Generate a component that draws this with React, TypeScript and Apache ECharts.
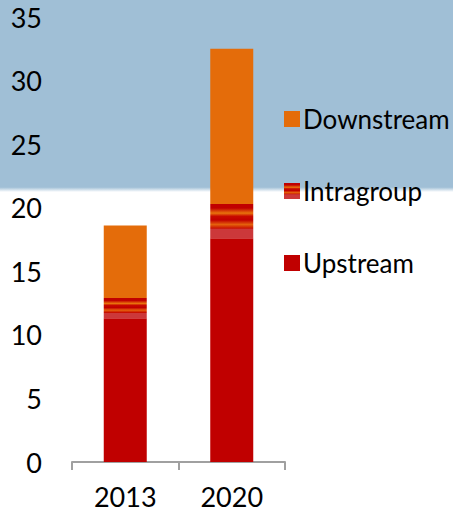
import React, { useEffect, useRef } from "react";
import * as echarts from "echarts";

const categories = ["2013", "2020"];
const upstream = [11.3, 17.6];
const intragroup = [1.6, 2.7];
const downstream = [5.7, 12.2];
const yTicks = [0, 5, 10, 15, 20, 25, 30, 35];

const FONT = "Lato";

const intraFill = new echarts.graphic.LinearGradient(0, 0, 0, 1, [
  { offset: 0, color: "#c00000" },
  { offset: 0.12, color: "#c00000" },
  { offset: 0.27, color: "#e8730c" },
  { offset: 0.36, color: "#c80a00" },
  { offset: 0.47, color: "#c00000" },
  { offset: 0.6, color: "#e4600c" },
  { offset: 0.715, color: "#c81000" },
  { offset: 0.72, color: "#cc383a" },
  { offset: 1, color: "#cc383a" },
]);

export default function App() {
  const ref = useRef<HTMLDivElement>(null);
  useEffect(() => {
    const chart = echarts.init(ref.current!, null, { renderer: "svg" });
    chart.setOption({
      animation: false,
      backgroundColor: "#ffffff",
      graphic: [
        {
          type: "rect",
          z: -10,
          silent: true,
          shape: { x: 0, y: 0, width: 453, height: 192 },
          style: {
            fill: new echarts.graphic.LinearGradient(0, 0, 0, 1, [
              { offset: 0, color: "#a0bfd6" },
              { offset: 0.975, color: "#a0bfd6" },
              { offset: 1, color: "#ffffff" },
            ]),
          },
        },
      ],
      grid: { left: 72, right: 168, top: 17, bottom: 56 },
      legend: {
        orient: "vertical",
        left: 279,
        top: 101,
        itemGap: 46,
        itemWidth: 16,
        itemHeight: 16,
        icon: "rect",
        data: ["Downstream", "Intragroup", "Upstream"],
        textStyle: { fontFamily: FONT, fontSize: 26, color: "#000", padding: [0, 0, 0, -2] },
      },
      xAxis: {
        type: "category",
        data: categories,
        axisLine: { lineStyle: { color: "#a0a0a0", width: 2 } },
        axisTick: { show: true, length: 8, lineStyle: { color: "#a0a0a0", width: 2 } },
        axisLabel: { fontFamily: FONT, fontSize: 27, color: "#000", margin: 21 },
      },
      yAxis: {
        type: "value",
        min: 0,
        max: 35,
        interval: 5,
        axisLine: { show: false },
        axisTick: { show: false },
        splitLine: { show: false },
        axisLabel: {
          fontFamily: FONT,
          fontSize: 27,
          color: "#000",
          margin: 30,
          formatter: (v: number) => (yTicks.includes(v) ? String(v) : ""),
        },
      },
      series: [
        {
          name: "Upstream",
          type: "bar",
          stack: "s",
          barWidth: 43,
          data: upstream,
          itemStyle: { color: "#c00000" },
        },
        {
          name: "Intragroup",
          type: "bar",
          stack: "s",
          barWidth: 43,
          data: intragroup,
          itemStyle: { color: intraFill },
        },
        {
          name: "Downstream",
          type: "bar",
          stack: "s",
          barWidth: 43,
          data: downstream,
          itemStyle: { color: "#e46c0a" },
        },
      ],
    });
    return () => chart.dispose();
  }, []);
  return (
    <div
      ref={ref}
      style={{ position: "fixed", left: 0, top: 0, width: 453, height: 518 }}
    />
  );
}
